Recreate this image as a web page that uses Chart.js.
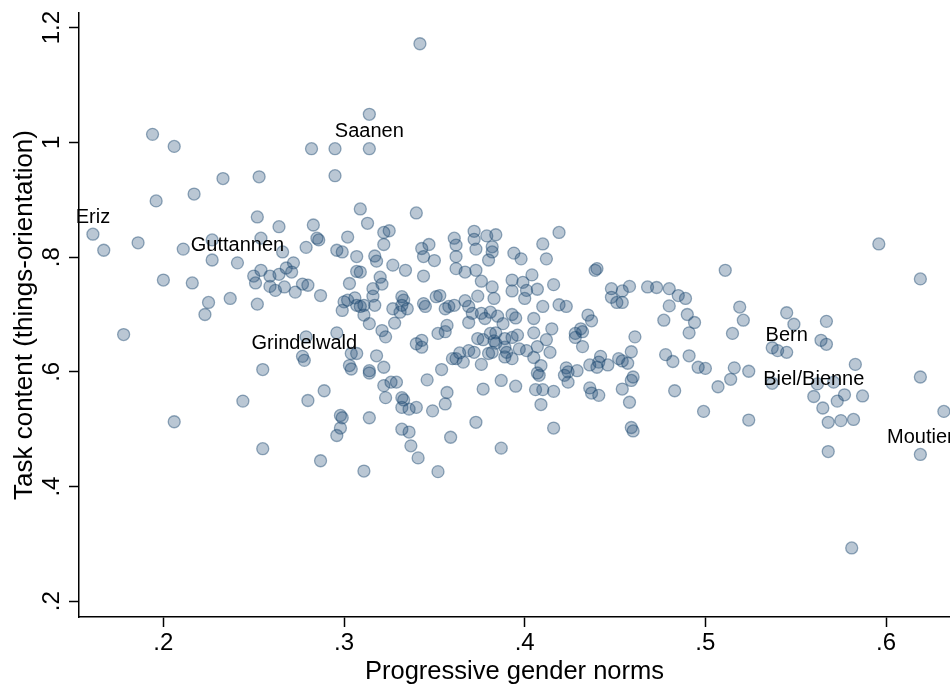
<!DOCTYPE html>
<html>
<head>
<meta charset="utf-8">
<title>Task content vs progressive gender norms</title>
<script src="https://cdn.jsdelivr.net/npm/chart.js@4.4.0/dist/chart.umd.min.js"></script>
<style>
    html, body { margin: 0; padding: 0; background: #ffffff; }
    #wrap { width: 950px; height: 689px; }
</style>
</head>
<body>
<div id="wrap"><canvas id="scatterChart" width="950" height="689"></canvas></div>
<script>
// One entry per municipality: progressive gender norms (x) and task content (y)
const genderNorms = [
    0.161, 0.167, 0.178, 0.186, 0.194, 0.196, 0.200, 0.206, 0.206, 0.211,
    0.216, 0.217, 0.223, 0.225, 0.227, 0.227, 0.233, 0.237, 0.241, 0.244,
    0.250, 0.251, 0.254, 0.252, 0.253, 0.254, 0.252, 0.255, 0.255, 0.264,
    0.266, 0.259, 0.264, 0.268, 0.272, 0.271, 0.259, 0.262, 0.267, 0.273,
    0.342, 0.314, 0.282, 0.295, 0.314, 0.295, 0.309, 0.340, 0.283, 0.313,
    0.285, 0.286, 0.302, 0.322, 0.325, 0.322, 0.279, 0.296, 0.299, 0.307,
    0.317, 0.318, 0.307, 0.309, 0.327, 0.334, 0.344, 0.343, 0.347, 0.344,
    0.350, 0.361, 0.362, 0.362, 0.362, 0.277, 0.280, 0.287, 0.303, 0.320,
    0.321, 0.316, 0.316, 0.300, 0.302, 0.306, 0.307, 0.309, 0.311, 0.317,
    0.332, 0.333, 0.332, 0.335, 0.327, 0.331, 0.344, 0.345, 0.351, 0.353,
    0.356, 0.358, 0.361, 0.299, 0.311, 0.314, 0.321, 0.323, 0.328, 0.296,
    0.304, 0.307, 0.279, 0.277, 0.278, 0.318, 0.303, 0.304, 0.314, 0.314,
    0.322, 0.340, 0.343, 0.343, 0.352, 0.356, 0.357, 0.360, 0.354, 0.346,
    0.322, 0.326, 0.329, 0.323, 0.332, 0.333, 0.332, 0.340, 0.349, 0.356,
    0.357, 0.289, 0.280, 0.298, 0.299, 0.298, 0.296, 0.314, 0.332, 0.336, 0.359,
    0.287, 0.311, 0.336, 0.337, 0.341, 0.352,
    0.419, 0.410, 0.412, 0.372, 0.372, 0.379, 0.384,
    0.373, 0.382, 0.382, 0.380, 0.394, 0.398,
    0.367, 0.373, 0.376, 0.382, 0.383, 0.374, 0.393, 0.393, 0.399, 0.401,
    0.400, 0.404, 0.407, 0.416, 0.439, 0.440, 0.448, 0.454, 0.458, 0.448,
    0.451, 0.454,
    0.367, 0.369, 0.371, 0.376, 0.381, 0.385, 0.378, 0.369, 0.388, 0.393,
    0.395, 0.405, 0.410, 0.419, 0.423, 0.435, 0.437, 0.415, 0.431,
    0.405, 0.428, 0.432, 0.428, 0.432, 0.461, 0.374, 0.377, 0.381, 0.384,
    0.383, 0.384, 0.389, 0.393, 0.396, 0.412, 0.407, 0.414, 0.397, 0.401,
    0.389, 0.390, 0.372, 0.380, 0.382, 0.364, 0.369, 0.366, 0.362, 0.376,
    0.389, 0.393, 0.405, 0.409, 0.407, 0.408, 0.387, 0.395, 0.377, 0.406,
    0.410, 0.416, 0.409, 0.423, 0.424, 0.422, 0.424, 0.429, 0.436, 0.440,
    0.441, 0.446, 0.452, 0.454, 0.457, 0.459, 0.436, 0.437, 0.441, 0.454,
    0.458, 0.459, 0.460, 0.373, 0.416, 0.387,
    0.459, 0.442,
    0.596, 0.619, 0.511, 0.468, 0.473, 0.480, 0.485, 0.489, 0.480, 0.490,
    0.494, 0.477, 0.491, 0.519, 0.521, 0.515,
    0.545, 0.549, 0.567, 0.564, 0.567, 0.537, 0.540, 0.545,
    0.460, 0.478, 0.482, 0.491, 0.496, 0.500, 0.516, 0.524, 0.514, 0.507,
    0.483, 0.537, 0.562, 0.571, 0.583, 0.560, 0.577, 0.573, 0.587, 0.565,
    0.568, 0.575, 0.582, 0.568, 0.619, 0.632, 0.619, 0.581, 0.499, 0.524
];

const taskContent = [
    0.840, 0.812, 0.665, 0.825, 1.014, 0.898, 0.760, 0.993, 0.513, 0.814,
    0.755, 0.910, 0.700, 0.721, 0.830, 0.795, 0.937, 0.728, 0.790, 0.549,
    0.767, 0.755, 0.777, 0.870, 0.940, 0.833, 0.718, 0.604, 0.466, 0.853,
    0.809, 0.767, 0.770, 0.781, 0.790, 0.774, 0.749, 0.742, 0.748, 0.739,
    1.172, 1.049, 0.989, 0.989, 0.989, 0.942, 0.884, 0.877, 0.856, 0.859,
    0.833, 0.830, 0.835, 0.843, 0.846, 0.822, 0.817, 0.812, 0.809, 0.801,
    0.802, 0.793, 0.775, 0.774, 0.786, 0.777, 0.767, 0.815, 0.822, 0.801,
    0.794, 0.833, 0.821, 0.801, 0.780, 0.753, 0.751, 0.733, 0.754, 0.765,
    0.753, 0.745, 0.732, 0.722, 0.725, 0.729, 0.716, 0.714, 0.716, 0.716,
    0.731, 0.725, 0.716, 0.710, 0.710, 0.704, 0.719, 0.714, 0.731, 0.733,
    0.710, 0.714, 0.716, 0.707, 0.699, 0.684, 0.672, 0.661, 0.685, 0.668,
    0.632, 0.632, 0.661, 0.627, 0.620, 0.628, 0.611, 0.605, 0.602, 0.598,
    0.608, 0.649, 0.655, 0.643, 0.667, 0.670, 0.681, 0.623, 0.604, 0.586,
    0.576, 0.582, 0.582, 0.555, 0.555, 0.551, 0.538, 0.538, 0.532, 0.544,
    0.564, 0.567, 0.550, 0.524, 0.520, 0.502, 0.489, 0.520, 0.500, 0.495, 0.486,
    0.445, 0.427, 0.535, 0.471, 0.450, 0.426,
    0.843, 0.823, 0.797, 0.845, 0.831, 0.837, 0.839,
    0.814, 0.818, 0.809, 0.795, 0.807, 0.797,
    0.774, 0.777, 0.758, 0.748, 0.728, 0.732, 0.760, 0.741, 0.756, 0.742,
    0.728, 0.769, 0.744, 0.752, 0.777, 0.780, 0.745, 0.741, 0.749, 0.730,
    0.721, 0.721,
    0.724, 0.714, 0.702, 0.702, 0.704, 0.697, 0.693, 0.686, 0.684, 0.700,
    0.694, 0.693, 0.714, 0.717, 0.714, 0.699, 0.689, 0.675, 0.675,
    0.668, 0.667, 0.670, 0.660, 0.644, 0.661, 0.658, 0.656, 0.667, 0.668,
    0.654, 0.650, 0.658, 0.660, 0.664, 0.656, 0.644, 0.634, 0.640, 0.637,
    0.643, 0.634, 0.634, 0.632, 0.634, 0.633, 0.637, 0.617, 0.623, 0.613,
    0.626, 0.623, 0.625, 0.611, 0.598, 0.594, 0.585, 0.575, 0.570, 0.569,
    0.569, 0.566, 0.543, 0.607, 0.600, 0.594, 0.582, 0.602, 0.612, 0.608,
    0.617, 0.612, 0.623, 0.619, 0.615, 0.635, 0.572, 0.563, 0.559, 0.570,
    0.547, 0.503, 0.497, 0.512, 0.502, 0.467,
    0.585, 0.627,
    0.823, 0.762, 0.777, 0.748, 0.747, 0.745, 0.733, 0.728, 0.715, 0.700,
    0.686, 0.690, 0.668, 0.713, 0.690, 0.667,
    0.703, 0.683, 0.688, 0.655, 0.648, 0.642, 0.637, 0.634,
    0.591, 0.630, 0.618, 0.628, 0.608, 0.606, 0.607, 0.601, 0.587, 0.574,
    0.567, 0.580, 0.579, 0.582, 0.613, 0.557, 0.560, 0.549, 0.558, 0.537,
    0.512, 0.515, 0.517, 0.461, 0.591, 0.531, 0.456, 0.293, 0.531, 0.516
];

// Municipalities named on the plot
const labelNames = ['Eriz', 'Guttannen', 'Saanen', 'Grindelwald', 'Bern', 'Biel/Bienne', 'Moutier'];
const labelX = [0.161, 0.241, 0.314, 0.278, 0.545, 0.560, 0.619];
const labelY = [0.840, 0.790, 0.989, 0.620, 0.634, 0.557, 0.456];

const xTicks = [0.2, 0.3, 0.4, 0.5, 0.6];
const xTickLabels = ['.2', '.3', '.4', '.5', '.6'];
const yTicks = [0.2, 0.4, 0.6, 0.8, 1.0, 1.2];
const yTickLabels = ['.2', '.4', '.6', '.8', '1', '1.2'];

const FONT = "'Liberation Sans', Arial, Helvetica, sans-serif";
const NAVY = '26, 71, 111';

// Draw municipality names centred just above their marker
const markerLabels = {
    id: 'markerLabels',
    afterDatasetsDraw(chart) {
        const { ctx, scales: { x, y } } = chart;
        ctx.save();
        ctx.font = '20px ' + FONT;
        ctx.fillStyle = '#000000';
        ctx.textAlign = 'center';
        ctx.textBaseline = 'middle';
        labelNames.forEach((name, i) => {
            ctx.fillText(name, x.getPixelForValue(labelX[i]), y.getPixelForValue(labelY[i]) - 17);
        });
        ctx.restore();
    }
};

const points = genderNorms.map((v, i) => ({ x: v, y: taskContent[i] }));

new Chart(document.getElementById('scatterChart'), {
    type: 'scatter',
    data: {
        datasets: [{
            data: points,
            pointRadius: 6,
            pointHoverRadius: 6,
            backgroundColor: `rgba(${NAVY}, 0.3)`,
            borderColor: `rgba(${NAVY}, 0.45)`,
            borderWidth: 1.3
        }]
    },
    options: {
        responsive: false,
        animation: false,
        layout: {
            autoPadding: false,
            padding: { top: 13, right: 0, bottom: 0, left: 0 }
        },
        plugins: {
            legend: { display: false },
            tooltip: { enabled: false }
        },
        scales: {
            x: {
                type: 'linear',
                min: 0.1533,
                max: 0.6354,
                afterBuildTicks: scale => { scale.ticks = xTicks.map(v => ({ value: v })); },
                afterFit: scale => {
                    scale.height = 72;
                    scale.paddingLeft = 0;
                    scale.paddingRight = 0;
                },
                grid: {
                    display: true,
                    drawOnChartArea: false,
                    drawTicks: true,
                    tickLength: 10,
                    tickColor: '#000000',
                    tickWidth: 1.5
                },
                border: { display: true, color: '#000000', width: 1.5 },
                ticks: {
                    color: '#000000',
                    padding: 2,
                    maxRotation: 0,
                    autoSkip: false,
                    font: { size: 24, family: FONT },
                    callback: (value, index) => xTickLabels[index]
                },
                title: {
                    display: true,
                    text: 'Progressive gender norms',
                    color: '#000000',
                    font: { size: 25.5, family: FONT },
                    padding: { top: 0, bottom: 2 }
                }
            },
            y: {
                type: 'linear',
                min: 0.1726,
                max: 1.2256,
                afterBuildTicks: scale => { scale.ticks = yTicks.map(v => ({ value: v })); },
                afterFit: scale => {
                    scale.width = 79;
                    scale.paddingTop = 0;
                    scale.paddingBottom = 0;
                },
                grid: {
                    display: true,
                    drawOnChartArea: false,
                    drawTicks: true,
                    tickLength: 10,
                    tickColor: '#000000',
                    tickWidth: 1.5
                },
                border: { display: true, color: '#000000', width: 1.5 },
                ticks: {
                    color: '#000000',
                    padding: 0,
                    minRotation: 90,
                    maxRotation: 90,
                    crossAlign: 'center',
                    autoSkip: false,
                    font: { size: 24, family: FONT },
                    callback: (value, index) => yTickLabels[index]
                },
                title: {
                    display: true,
                    text: 'Task content (things-orientation)',
                    color: '#000000',
                    font: { size: 26, family: FONT },
                    padding: { top: 9, bottom: 0 }
                }
            }
        }
    },
    plugins: [markerLabels]
});
</script>
</body>
</html>
